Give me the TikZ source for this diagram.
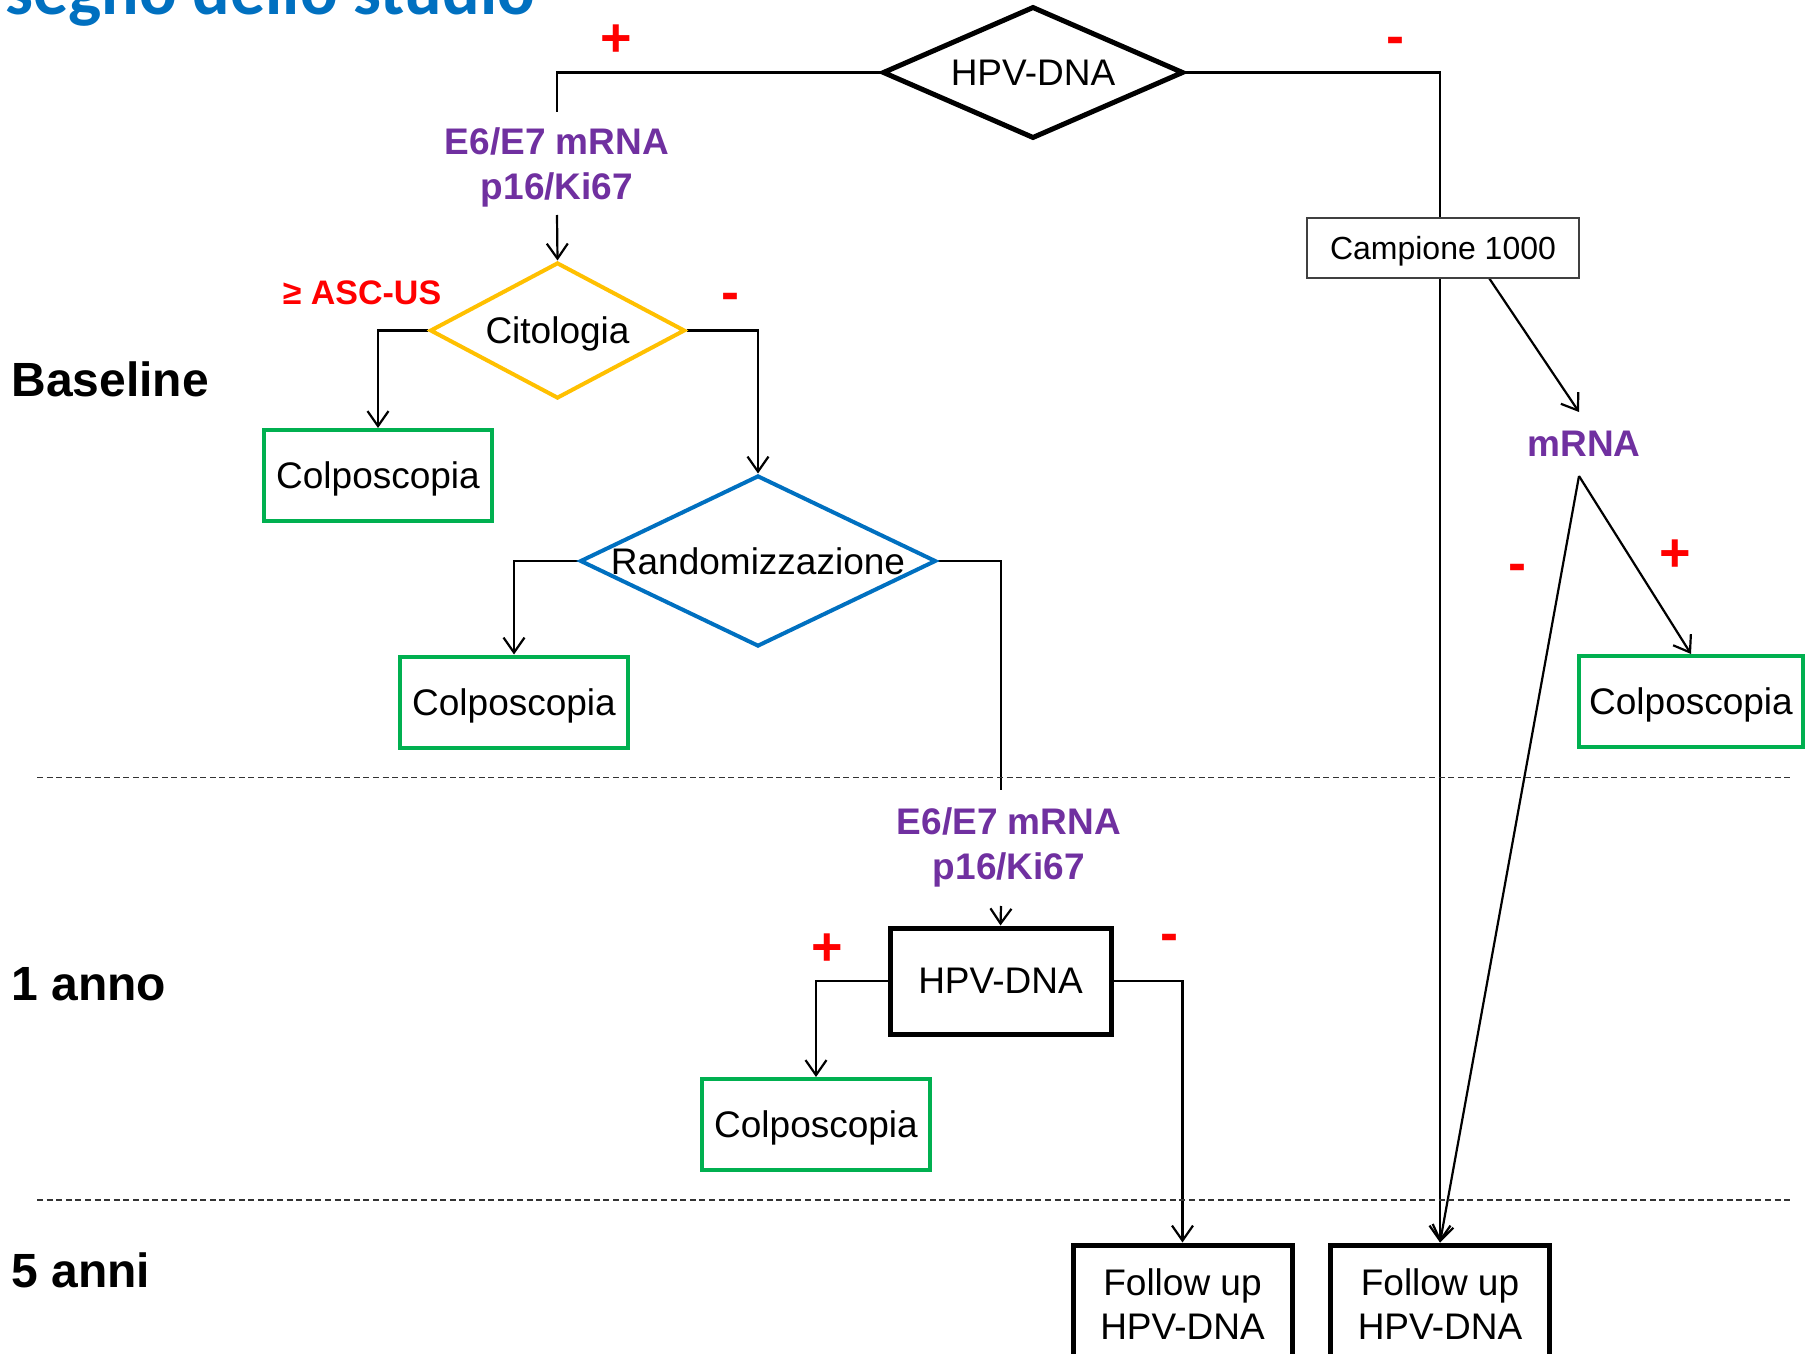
\documentclass[tikz,border=0pt]{standalone}
\usepackage{fontspec}
\setmainfont{Liberation Sans}
\newfontfamily\titlefont{Carlito}
\usetikzlibrary{shapes.geometric,arrows.meta,calc}
\definecolor{cgreen}{RGB}{0,176,80}
\definecolor{cyellow}{RGB}{255,192,0}
\definecolor{cblue}{RGB}{0,112,192}
\definecolor{cpurple}{RGB}{112,48,160}
\definecolor{cred}{RGB}{255,0,0}
\pgfdeclarelayer{back}
\pgfdeclarelayer{bg}
\pgfsetlayers{back,bg,main}
\tikzset{
  txt/.style={font=\fontsize{18.5}{22}\selectfont},
  dia/.style={shape=diamond, inner sep=0pt, fill=white, txt, text depth=0pt},
  greenbox/.style={draw=cgreen, line width=2pt, fill=white, minimum width=114pt, minimum height=45.5pt, inner sep=0pt, txt, text depth=0pt},
  thickbox/.style={draw=black, line width=2.5pt, fill=white, inner sep=0pt, txt, align=center},
  purp/.style={text=cpurple, font=\bfseries\fontsize{18.5}{22.5}\selectfont, align=center, inner sep=0pt},
  sign/.style={text=cred, font=\bfseries\fontsize{27}{30}\selectfont, inner sep=0pt},
  rowlab/.style={font=\bfseries\fontsize{24}{28}\selectfont, anchor=west, inner sep=0pt},
  conn/.style={draw=black, line width=1.1pt},
  arr/.style={conn, -{Straight Barb[length=7.5pt,width=10.5pt,line width=1.1pt]}},
  dashline/.style={draw=black!80, line width=0.7pt, dash pattern=on 3pt off 1.8pt},
}
\begin{document}
\begin{tikzpicture}[x=0.5pt,y=-0.5pt]
\useasboundingbox (0,0) rectangle (1806,1354);
\begin{pgfonlayer}{back}
\fill[white] (0,0) rectangle (1806,1354);
\end{pgfonlayer}
\clip (0,0) rectangle (1806,1354);

% title
\node[anchor=base west, inner sep=0pt, text=cblue, font=\titlefont\bfseries\fontsize{35}{40}\selectfont] (title) at (5,15) {segno dello studio};

% row labels
\node[rowlab] (lbase) at (11,379) {Baseline};
\node[rowlab] (lanno) at (11,984) {1 anno};
\node[rowlab] (lanni) at (11,1270) {5 anni};

% dashed separators
\coordinate (d1a) at (37,777.5); \coordinate (d1b) at (1792,777.5);
\coordinate (d2a) at (37,1200);  \coordinate (d2b) at (1792,1200);
\draw[dashline] (d1a) -- (d1b);
\draw[dashline] (d2a) -- (d2b);

% main nodes
\node[dia, draw=black, line width=2.5pt, minimum width=150.5pt, minimum height=66pt] (hpv1) at (1033,72.5) {\makebox[0pt]{HPV-DNA}};
\node[purp] (e1) at (557,167) {E6/E7 mRNA\\p16/Ki67};
\node[dia, draw=cyellow, line width=2pt, minimum width=127.5pt, minimum height=68pt] (cito) at (557.5,330.5) {\makebox[0pt]{Citologia}};
\node[greenbox] (colp1) at (378,475.5) {Colposcopia};
\node[dia, draw=cblue, line width=2pt, minimum width=178pt, minimum height=85.5pt] (rand) at (758,561) {\makebox[0pt]{Randomizzazione}};
\node[greenbox] (colp2) at (514,702) {Colposcopia};
\node[purp] (e2) at (1009,847) {E6/E7 mRNA\\p16/Ki67};
\node[thickbox, minimum width=110.5pt, minimum height=53pt] (hpv2) at (1000.5,981) {HPV-DNA};
\node[greenbox] (colp3) at (816,1124.5) {Colposcopia};
\node[thickbox, minimum width=109.5pt, minimum height=59pt] (fu1) at (1182.5,1304) {Follow up\\HPV-DNA};
\node[thickbox, minimum width=109.5pt, minimum height=59pt] (fu2) at (1440,1304) {Follow up\\HPV-DNA};
\node[draw=black!75, line width=0.7pt, fill=white, minimum width=136pt, minimum height=30pt, inner sep=0pt, text depth=0pt, font=\fontsize{16}{19}\selectfont] (camp) at (1443,248) {Campione 1000};
\node[purp] (mrna) at (1584,444) {mRNA};
\node[greenbox, minimum width=112pt] (colp4) at (1691,701.5) {Colposcopia};

% red signs
\node[sign] (p1) at (616,41) {+};
\node[sign] (m1) at (1395,46) {-};
\node[text=cred, font=\bfseries\fontsize{17}{20}\selectfont, inner sep=0pt] (asc) at (362,292.5) {≥ ASC-US};
\node[sign] (m2) at (730,302) {-};
\node[sign] (p2) at (827,950) {+};
\node[sign] (m3) at (1169,943) {-};
\node[sign] (m4) at (1517,573) {-};
\node[sign] (p3) at (1675,556) {+};

% connector end points
\coordinate (e1top) at (557,112);
\coordinate (e1bot) at (557,215);
\coordinate (e2top) at (1001,790);
\coordinate (e2bot) at (1001,906);
\coordinate (campout) at (1489,278);
\coordinate (mrnain) at (1579,412);
\coordinate (mrnaout) at (1579,476);

\begin{pgfonlayer}{bg}
\draw[conn] (hpv1.west) -| (e1top);
\draw[arr] (e1bot) -- (cito.north);
\draw[arr] (cito.west) -| (colp1.north);
\draw[arr] (cito.east) -| (rand.north);
\draw[arr] (rand.west) -| (colp2.north);
\draw[conn] (rand.east) -| (e2top);
\draw[arr] (e2bot) -- (hpv2.north);
\draw[arr] (hpv2.west) -| (colp3.north);
\draw[arr] (hpv2.east) -| (fu1.north);
\draw[arr] (hpv1.east) -| (fu2.north);
\draw[arr] (campout) -- (mrnain);
\draw[arr] (mrnaout) -- (colp4.north);
\draw[arr] (mrnaout) -- (fu2.north);
\end{pgfonlayer}
\end{tikzpicture}
\end{document}
